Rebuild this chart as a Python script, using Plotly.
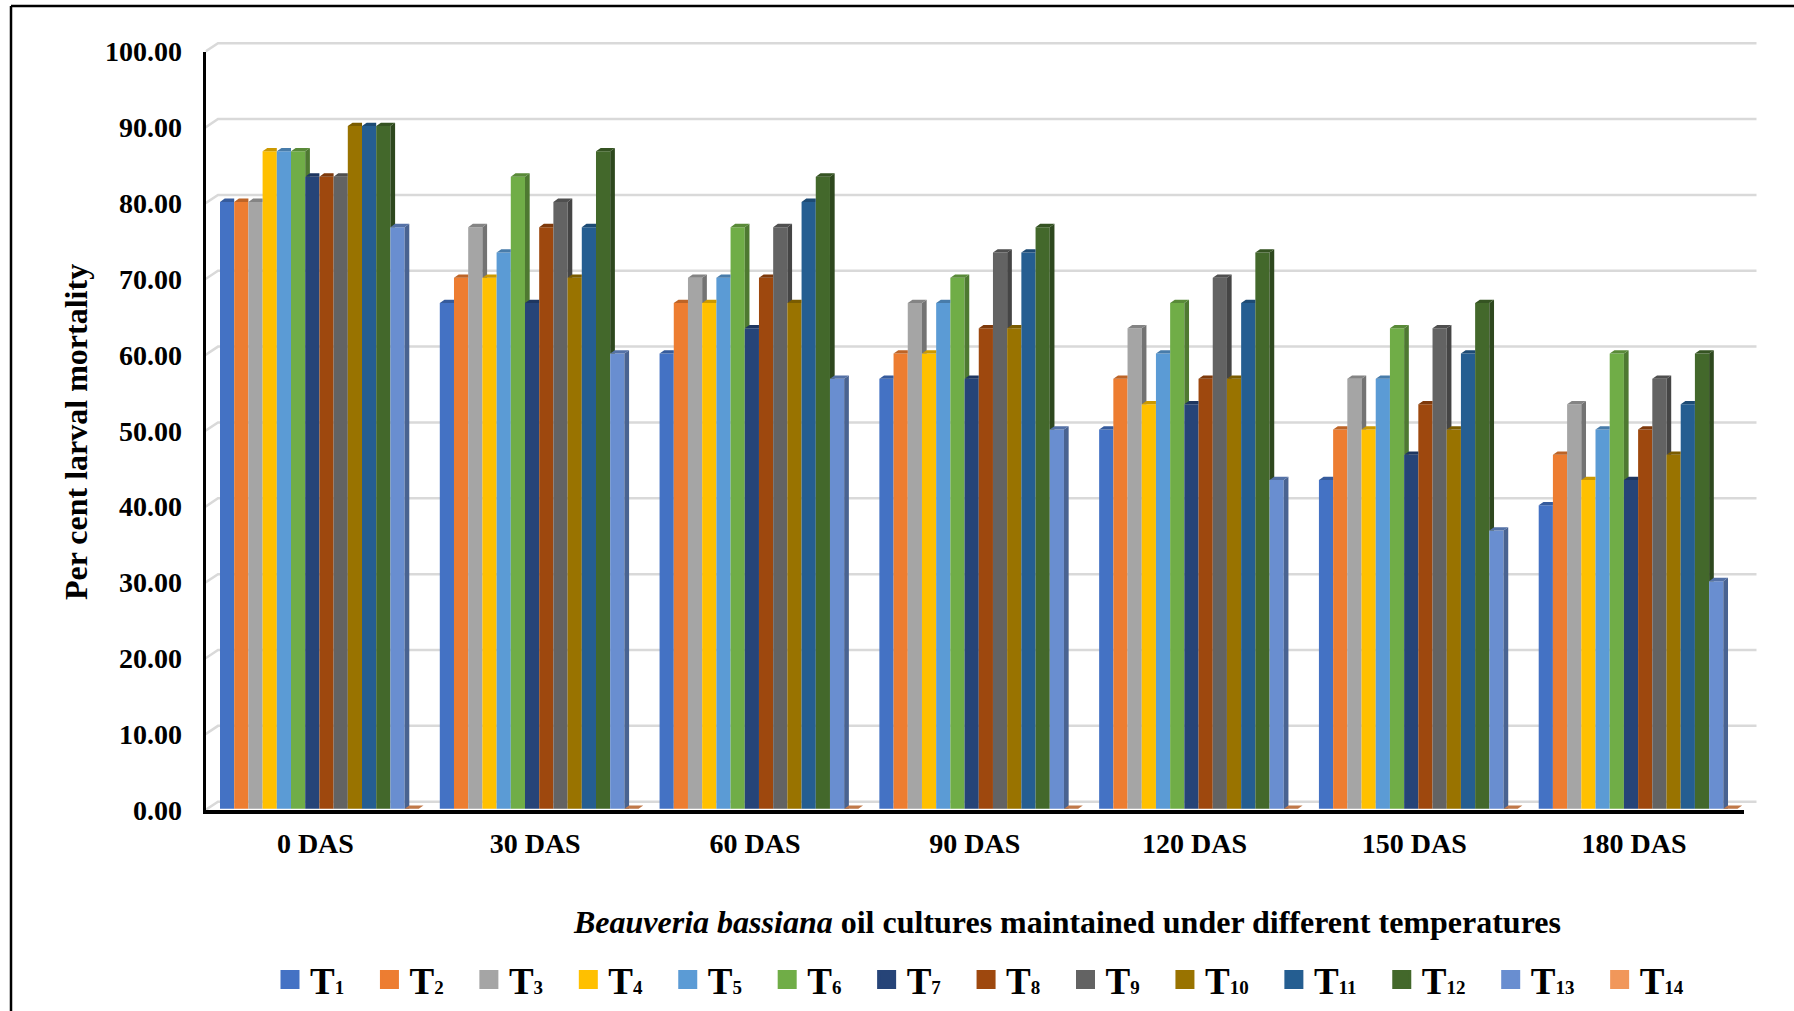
import plotly.graph_objects as go

W, H = 1794, 1011
categories = ["0 DAS", "30 DAS", "60 DAS", "90 DAS", "120 DAS", "150 DAS", "180 DAS"]
series_names = ["T1", "T2", "T3", "T4", "T5", "T6", "T7", "T8", "T9", "T10", "T11", "T12", "T13", "T14"]
T1 = [80.00, 66.67, 60.00, 56.67, 50.00, 43.33, 40.00]
T2 = [80.00, 70.00, 66.67, 60.00, 56.67, 50.00, 46.67]
T3 = [80.00, 76.67, 70.00, 66.67, 63.33, 56.67, 53.33]
T4 = [86.67, 70.00, 66.67, 60.00, 53.33, 50.00, 43.33]
T5 = [86.67, 73.33, 70.00, 66.67, 60.00, 56.67, 50.00]
T6 = [86.67, 83.33, 76.67, 70.00, 66.67, 63.33, 60.00]
T7 = [83.33, 66.67, 63.33, 56.67, 53.33, 46.67, 43.33]
T8 = [83.33, 76.67, 70.00, 63.33, 56.67, 53.33, 50.00]
T9 = [83.33, 80.00, 76.67, 73.33, 70.00, 63.33, 56.67]
T10 = [90.00, 70.00, 66.67, 63.33, 56.67, 50.00, 46.67]
T11 = [90.00, 76.67, 80.00, 73.33, 66.67, 60.00, 53.33]
T12 = [90.00, 86.67, 83.33, 76.67, 73.33, 66.67, 60.00]
T13 = [76.67, 60.00, 56.67, 50.00, 43.33, 36.67, 30.00]
T14 = [0, 0, 0, 0, 0, 0, 0]
series_values = [T1, T2, T3, T4, T5, T6, T7, T8, T9, T10, T11, T12, T13, T14]
colors = ["#4472C4", "#ED7D31", "#A5A5A5", "#FFC000", "#5B9BD5", "#70AD47", "#264478",
          "#9E480E", "#636363", "#997300", "#255E91", "#43682B", "#698ED0", "#F1975A"]
y_ticks = [0, 10, 20, 30, 40, 50, 60, 70, 80, 90, 100]

# ---- geometry of the pseudo-3D chart (pixels)
X0, X1 = 205.5, 1744.0      # front axis plane
Y0, Y100 = 810.0, 51.5
GROUP_PX = (X1 - X0) / 7
UNIT_PX = (Y0 - Y100) / 100
BACK_DX, BACK_DY = 12.5, 8.3
BAR_W = 14.2 / GROUP_PX
BAR_START = (220.0 - X0) / GROUP_PX
BAR_BASE = 1.3 / UNIT_PX
DEPTH_X = 4.7 / GROUP_PX
DEPTH_Y = 3.3 / UNIT_PX
GRID_PAD = 2                # back-wall range is padded so the 0 and 100 gridlines are kept
WALL_X = BACK_DX / GROUP_PX
WALL_Y = BACK_DY / UNIT_PX
FONT = "Liberation Serif"


def shade(hex_color, f):
    r, g, b = (int(hex_color[i:i + 2], 16) for i in (1, 3, 5))
    return f"rgb({int(r * f)},{int(g * f)},{int(b * f)})"


fig = go.Figure()

# gridlines on the back wall with their connectors on the side wall (first subplot, under the bars)
grid_x, grid_y = [], []
for t in y_ticks:
    grid_x += [-WALL_X, 0, 7, None]
    grid_y += [t - WALL_Y, t, t, None]
fig.add_trace(go.Scatter(x=grid_x, y=grid_y, mode="lines", line=dict(color="#D9D9D9", width=2.5),
                         hoverinfo="skip", showlegend=False))

# bars (front faces)
for s, (name, vals, col) in enumerate(zip(series_names, series_values, colors)):
    fig.add_trace(go.Bar(
        x=[g + BAR_START + s * BAR_W for g in range(len(categories))],
        y=vals, base=BAR_BASE, width=BAR_W, offset=0,
        marker=dict(color=col, line=dict(width=0)),
        name=name, showlegend=False, xaxis="x2", yaxis="y2"))

# top and side faces, computed from the same values
for s, (vals, col) in enumerate(zip(series_values, colors)):
    cap_x, cap_y, side_x, side_y = [], [], [], []
    for g, v in enumerate(vals):
        left = g + BAR_START + s * BAR_W
        right = left + BAR_W
        top = v + BAR_BASE
        nxt = series_values[s + 1][g] + BAR_BASE if s + 1 < len(series_values) else None
        if nxt is not None and nxt >= top:
            cap_x += [left, right, right, left + DEPTH_X, left, None]
            cap_y += [top, top, top + DEPTH_Y, top + DEPTH_Y, top, None]
        else:
            cap_x += [left, right, right + DEPTH_X, left + DEPTH_X, left, None]
            cap_y += [top, top, top + DEPTH_Y, top + DEPTH_Y, top, None]
            if nxt is not None:
                side_x += [right, right + DEPTH_X, right + DEPTH_X, right, right, None]
                side_y += [nxt, nxt, top + DEPTH_Y, top, nxt, None]
    if side_x:
        fig.add_trace(go.Scatter(x=side_x, y=side_y, mode="lines", fill="toself",
                                 fillcolor=shade(col, 0.70), line=dict(width=0),
                                 hoverinfo="skip", showlegend=False, xaxis="x2", yaxis="y2"))
    fig.add_trace(go.Scatter(x=cap_x, y=cap_y, mode="lines", fill="toself",
                             fillcolor=shade(col, 0.80), line=dict(width=0),
                             hoverinfo="skip", showlegend=False, xaxis="x2", yaxis="y2"))


# legend entries
def sub_label(name):
    return (f"T<span style='font-size:19px'>{name[1:]}</span>"
            "\u00a0\u00a0<span style='font-size:7px'>\u00a0</span>")


for name, col in zip(series_names, colors):
    fig.add_trace(go.Scatter(x=[None], y=[None], mode="markers", name=sub_label(name),
                             marker=dict(symbol="square", size=16, color=col, line=dict(color=col, width=3)),
                             xaxis="x2", yaxis="y2"))

bold = dict(family=FONT, size=28, color="black", weight=700)
title_font = dict(family=FONT, size=32, color="black", weight=700)
fig.update_layout(
    width=W, height=H, margin=dict(l=0, r=0, t=0, b=0, autoexpand=False),
    paper_bgcolor="white", plot_bgcolor="rgba(0,0,0,0)", barmode="overlay",
    showlegend=True,
    legend=dict(orientation="h", x=270 / W, xanchor="left", y=1 - 980 / H, yanchor="middle",
                xref="container", yref="container",
                font=dict(family=FONT, size=37, color="black", weight=700),
                bgcolor="rgba(0,0,0,0)", itemsizing="trace", traceorder="normal"),
    # back wall: no visible axis, it only places the gridlines
    xaxis=dict(domain=[X0 / W, (X1 + BACK_DX + 1) / W], range=[-WALL_X, 7 + 1 / GROUP_PX], showgrid=False,
               showticklabels=False, zeroline=False, ticks="", fixedrange=True),
    yaxis=dict(domain=[1 - (Y0 - BACK_DY + GRID_PAD * UNIT_PX) / H, 1 - (Y100 - BACK_DY - GRID_PAD * UNIT_PX) / H],
               range=[-GRID_PAD, 100 + GRID_PAD], showgrid=False,
               showticklabels=False, zeroline=False, ticks="", fixedrange=True, anchor="x"),
    # front plane: axes, labels and bars
    xaxis2=dict(domain=[X0 / W, X1 / W], range=[0, 7], showgrid=False, zeroline=False,
                showline=True, linecolor="black", linewidth=4,
                tickmode="array", tickvals=[g + 0.5 for g in range(len(categories))], ticktext=categories,
                ticks="outside", ticklen=5, tickcolor="rgba(0,0,0,0)", tickfont=bold,
                anchor="y2", fixedrange=True),
    yaxis2=dict(domain=[1 - Y0 / H, 1 - Y100 / H], range=[0, 100], showgrid=False, zeroline=False,
                showline=True, linecolor="black", linewidth=3,
                tickmode="array", tickvals=y_ticks, tickformat=".2f",
                ticks="outside", ticklen=15, tickcolor="rgba(0,0,0,0)", tickfont=bold,
                anchor="x2", fixedrange=True),
    annotations=[
        dict(text="<i>Beauveria bassiana</i> oil cultures maintained under different temperatures",
             x=1067 / W, y=1 - 941.5 / H, xref="paper", yref="paper", showarrow=False, font=title_font),
        dict(text="Per cent larval mortality", x=56 / W, y=1 - 432 / H, xref="paper", yref="paper",
             textangle=-90, showarrow=False, font=title_font),
    ],
    shapes=[
        dict(type="line", xref="paper", yref="paper", x0=11 / W, x1=11 / W, y0=0, y1=1 - 6 / H,
             line=dict(color="black", width=2.5)),
        dict(type="line", xref="paper", yref="paper", x0=11 / W, x1=1, y0=1 - 6 / H, y1=1 - 6 / H,
             line=dict(color="black", width=2.5)),
    ],
)

fig.write_html("out.html", config={"displayModeBar": False},
               post_script="document.body.style.margin='0';")
